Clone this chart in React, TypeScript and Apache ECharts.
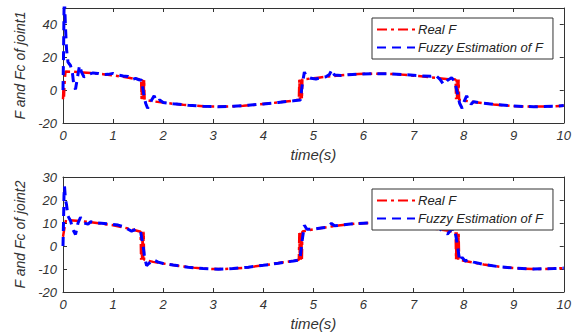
import React, { useEffect, useRef } from "react";
import * as echarts from "echarts";

const realF1: [number, number][] = [
  [0, -5.5], [0.01, 2], [0.02, -4], [0.03, 4], [0.05, 11.3], [0.2, 11.2], [0.4, 10.8], [0.6, 10.3],
  [0.8, 9.7], [1.0, 9.0], [1.2, 8.1], [1.4, 7.1], [1.56, 6.5], [1.57, -5.5], [1.58, 6.5],
  [1.59, -5.5], [1.6, 6.5], [1.61, -5.5], [1.62, 6.5], [1.63, -5.8], [1.8, -6.8], [2.0, -7.6],
  [2.2, -8.3], [2.4, -8.9], [2.6, -9.4], [2.8, -9.8], [3.0, -10], [3.2, -10], [3.4, -9.8],
  [3.6, -9.5], [3.8, -9.0], [4.0, -8.4], [4.2, -7.8], [4.4, -7.1], [4.6, -6.4], [4.71, -5.8],
  [4.72, 6.5], [4.73, -5.5], [4.74, 6.5], [4.75, -5.5], [4.76, 6.5], [4.77, -5.5], [4.78, 6.7],
  [4.9, 6.9], [5.1, 7.6], [5.3, 8.3], [5.5, 8.9], [5.7, 9.4], [5.9, 9.8], [6.1, 10], [6.3, 10],
  [6.5, 9.9], [6.7, 9.6], [6.9, 9.1], [7.1, 8.6], [7.3, 7.9], [7.5, 7.3], [7.7, 6.7],
  [7.84, 6.5], [7.85, -5.5], [7.86, 6.5], [7.87, -5.5], [7.88, 6.5], [7.89, -5.5], [7.9, 6.5],
  [7.91, -5.8], [8.0, -6.3], [8.2, -7.2], [8.4, -8.0], [8.6, -8.7], [8.8, -9.2], [9.0, -9.6],
  [9.2, -9.9], [9.4, -10], [9.6, -10], [9.8, -9.8], [10, -9.5],
];

const fuzzyF1: [number, number][] = [
  [0, 0], [0.01, 20], [0.02, 48], [0.03, 55], [0.05, 38], [0.07, 25], [0.1, 17], [0.15, 15],
  [0.19, 10], [0.22, 2], [0.25, 0.5], [0.29, 8], [0.33, 15], [0.37, 11], [0.42, 8], [0.5, 9.5],
  [0.6, 10.5], [0.7, 10.2], [0.8, 9.5], [0.9, 9.6], [1.0, 10.2], [1.1, 9.3], [1.2, 8.6],
  [1.3, 8.3], [1.38, 6.5], [1.45, 7.2], [1.52, 6.3], [1.57, 6], [1.61, -2], [1.65, -8],
  [1.69, -11], [1.73, -9], [1.77, -6], [1.82, -3.5], [1.87, -7], [1.93, -6], [2.0, -7.5],
  [2.2, -8.3], [2.5, -9.2], [2.8, -9.8], [3.1, -10.1], [3.4, -9.8], [3.7, -9.2], [4.0, -8.4],
  [4.3, -7.5], [4.6, -6.5], [4.74, -6], [4.78, 4], [4.82, 11], [4.86, 8.5], [4.95, 7.2],
  [5.05, 6.8], [5.15, 7.6], [5.25, 8.2], [5.32, 9.5], [5.37, 12.5], [5.42, 9.2], [5.55, 8.9],
  [5.7, 9.4], [5.9, 9.8], [6.2, 10], [6.5, 9.9], [6.8, 9.5], [7.1, 8.8], [7.35, 8.4],
  [7.45, 8.8], [7.53, 6.5], [7.6, 3.5], [7.68, 6], [7.76, 7.5], [7.82, 5.5], [7.87, -1],
  [7.92, -8], [7.97, -11], [8.01, -7], [8.06, -3.5], [8.1, -6], [8.15, -8.5], [8.2, -7],
  [8.3, -7.6], [8.6, -8.7], [9.0, -9.7], [9.4, -10.1], [9.8, -9.8], [10, -9.4],
];

const realF2: [number, number][] = [
  [0, 4], [0.03, 8], [0.06, 11.3], [0.2, 11.1], [0.4, 10.7], [0.6, 10.2], [0.8, 9.6], [1.0, 9.0],
  [1.2, 8.1], [1.4, 7.1], [1.55, 6.2], [1.56, -6], [1.57, 6.2], [1.58, -6], [1.59, 6.2],
  [1.6, -6], [1.61, 6.2], [1.62, -6], [1.8, -6.9], [2.0, -7.6], [2.2, -8.3], [2.4, -8.9],
  [2.6, -9.4], [2.8, -9.8], [3.0, -10], [3.2, -10], [3.4, -9.8], [3.6, -9.5], [3.8, -9.0],
  [4.0, -8.4], [4.2, -7.8], [4.4, -7.1], [4.6, -6.5], [4.71, -6], [4.72, 5.8], [4.73, -6],
  [4.74, 5.8], [4.75, -6], [4.76, 5.8], [4.77, -6], [4.78, 6.3], [4.9, 6.8], [5.1, 7.6],
  [5.3, 8.3], [5.5, 8.9], [5.7, 9.4], [5.9, 9.8], [6.1, 10], [6.3, 10], [6.5, 9.9], [6.7, 9.6],
  [6.9, 9.1], [7.1, 8.6], [7.3, 7.9], [7.5, 7.3], [7.7, 6.6], [7.84, 6], [7.85, -6], [7.86, 6],
  [7.87, -6], [7.88, 6], [7.89, -6], [7.9, 6], [7.91, -6], [8.0, -6.4], [8.2, -7.2], [8.4, -8.0],
  [8.6, -8.7], [8.8, -9.2], [9.0, -9.6], [9.2, -9.9], [9.4, -10], [9.6, -10], [9.8, -9.8],
  [10, -9.6],
];

const fuzzyF2: [number, number][] = [
  [0, 0], [0.01, 10], [0.02, 22], [0.03, 26], [0.05, 20], [0.07, 18], [0.1, 13], [0.15, 11],
  [0.2, 7], [0.25, 5], [0.3, 10], [0.35, 12.5], [0.42, 10], [0.5, 9.5], [0.55, 10.5], [0.7, 10],
  [0.9, 9.6], [1.1, 9.1], [1.2, 8.4], [1.3, 7.3], [1.37, 6.5], [1.45, 7.2], [1.55, 6.2],
  [1.6, 0], [1.63, -5], [1.67, -8.5], [1.72, -7.5], [1.8, -6], [1.9, -7], [2.0, -7.6],
  [2.2, -8.3], [2.5, -9.2], [2.8, -9.8], [3.1, -10.1], [3.4, -9.8], [3.7, -9.2], [4.0, -8.4],
  [4.3, -7.5], [4.6, -6.5], [4.73, -6], [4.78, 3], [4.82, 9], [4.87, 7.3], [5.0, 7.3],
  [5.15, 7.8], [5.28, 8.2], [5.36, 9.8], [5.42, 8.8], [5.6, 9.2], [5.8, 9.7], [6.1, 10],
  [6.4, 10], [6.7, 9.6], [7.0, 9.0], [7.3, 8.1], [7.5, 7.8], [7.6, 6.2], [7.68, 5.2],
  [7.75, 7], [7.82, 7.5], [7.88, 0], [7.92, -6.5], [7.97, -5], [8.03, -6.5], [8.1, -6],
  [8.2, -7], [8.4, -8.0], [8.7, -9.0], [9.0, -9.6], [9.4, -10], [9.8, -9.8], [10, -9.6],
];

const names = ["Real F", "Fuzzy Estimation of F"];
const yNames = ["F and Fc of joint1", "F and Fc of joint2"];

export default function App() {
  const ref = useRef<HTMLDivElement>(null);
  useEffect(() => {
    const chart = echarts.init(ref.current!, undefined, { renderer: "svg" });
    const font = "Liberation Sans";
    const axisCol = "#333";
    const labelStyle = { fontStyle: "italic", fontFamily: font, fontSize: 13, color: "#333" };
    const grids = [
      { left: 63, top: 8, width: 507, height: 115 },
      { left: 63, top: 177, width: 507, height: 115 },
    ];
    const yDefs = [
      { min: -20, max: 50, interval: 20 },
      { min: -20, max: 30, interval: 10 },
    ];
    const xAxis: any[] = [];
    const yAxis: any[] = [];
    const series: any[] = [];
    const legend: any[] = [];
    [0, 1].forEach((g) => {
      xAxis.push({
        type: "value", gridIndex: g, min: 0, max: 10, interval: 1, position: "bottom",
        name: "time(s)", nameLocation: "middle", nameGap: 24,
        nameTextStyle: { fontStyle: "italic", fontFamily: font, fontSize: 15, color: "#333" },
        axisLine: { onZero: false, lineStyle: { color: axisCol, width: 1 } },
        axisTick: { inside: true, length: 4, lineStyle: { color: axisCol } },
        axisLabel: { ...labelStyle, margin: 6 },
        splitLine: { show: false },
      });
      xAxis.push({
        type: "value", gridIndex: g, min: 0, max: 10, interval: 1, position: "top",
        axisLine: { onZero: false, lineStyle: { color: axisCol, width: 1 } },
        axisTick: { inside: true, length: 4, lineStyle: { color: axisCol } },
        axisLabel: { show: false }, splitLine: { show: false },
      });
      const yd = yDefs[g];
      yAxis.push({
        type: "value", gridIndex: g, min: yd.min, max: yd.max, interval: yd.interval, position: "left",
        name: yNames[g], nameLocation: "middle", nameGap: 36, nameRotate: 90,
        nameTextStyle: { fontStyle: "italic", fontFamily: font, fontSize: 14, color: "#333" },
        axisLine: { show: true, onZero: false, lineStyle: { color: axisCol, width: 1 } },
        axisTick: { show: true, inside: true, length: 4, lineStyle: { color: axisCol } },
        axisLabel: { ...labelStyle, margin: 6, showMaxLabel: g === 1 },
        splitLine: { show: false },
      });
      yAxis.push({
        type: "value", gridIndex: g, min: yd.min, max: yd.max, interval: yd.interval, position: "right",
        axisLine: { show: true, onZero: false, lineStyle: { color: axisCol, width: 1 } },
        axisTick: { show: true, inside: true, length: 4, lineStyle: { color: axisCol } },
        axisLabel: { show: false }, splitLine: { show: false },
      });
      const real = g === 0 ? realF1 : realF2;
      const fuzzy = g === 0 ? fuzzyF1 : fuzzyF2;
      series.push({
        name: names[0], type: "line", xAxisIndex: g * 2, yAxisIndex: g * 2, data: real,
        showSymbol: false, symbol: "none",
        lineStyle: { color: "#ff0000", width: 2.5, type: [10, 4, 3, 4] },
        itemStyle: { color: "#ff0000" },
      });
      series.push({
        name: names[1], type: "line", xAxisIndex: g * 2, yAxisIndex: g * 2, data: fuzzy,
        showSymbol: false, symbol: "none",
        lineStyle: { color: "#0000ff", width: 3, type: [9, 6] },
        itemStyle: { color: "#0000ff" },
      });
      legend.push({
        data: names, orient: "vertical", left: 372, top: g === 0 ? 18 : 189,
        itemWidth: 38, itemHeight: 10, itemGap: 5, padding: [5, 10, 5, 4],
        borderColor: "#333", borderWidth: 1, backgroundColor: "#fff", borderRadius: 0,
        itemStyle: { opacity: 0 },
        textStyle: { fontStyle: "italic", fontFamily: font, fontSize: 13, color: "#222", padding: [0, 0, 0, -2] },
        selectedMode: false,
      });
    });
    chart.setOption({
      animation: false,
      backgroundColor: "#fff",
      grid: grids,
      xAxis, yAxis, series, legend,
    });
    return () => chart.dispose();
  }, []);
  return <div ref={ref} style={{ width: 574, height: 333, position: "absolute", left: 0, top: 0 }} />;
}
